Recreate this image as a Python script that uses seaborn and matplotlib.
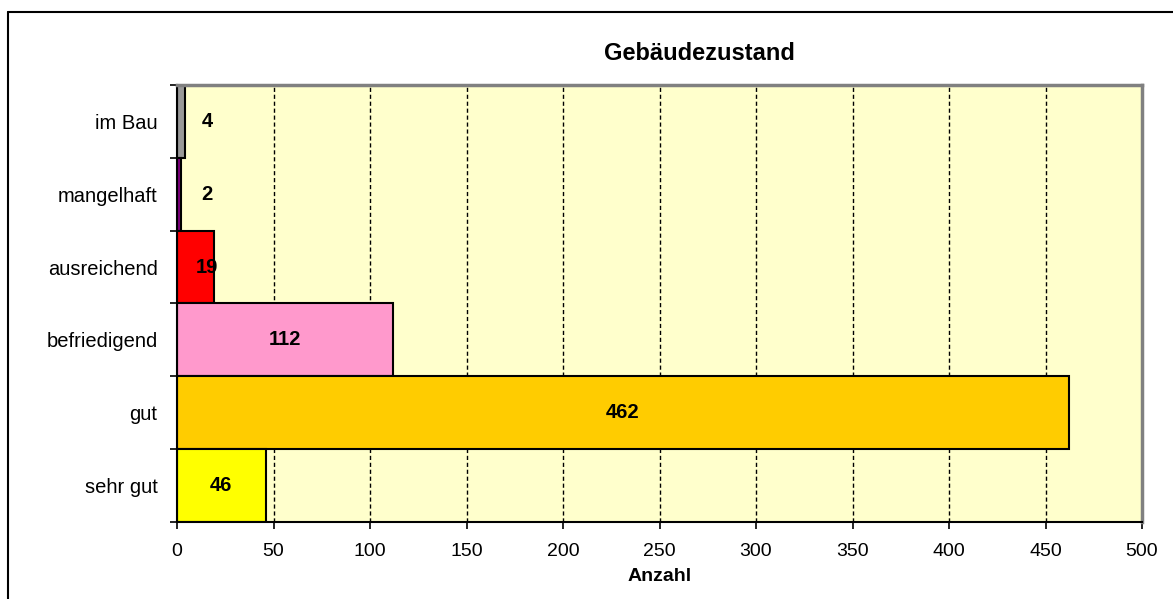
import matplotlib
matplotlib.use("Agg")
import matplotlib.pyplot as plt
import seaborn as sns
import pandas as pd
from matplotlib.lines import Line2D
from matplotlib.ticker import FixedLocator

categories = ["im Bau", "mangelhaft", "ausreichend", "befriedigend", "gut", "sehr gut"]
values = [4, 2, 19, 112, 462, 46]
colors = ["#999999", "#800080", "#FF0000", "#FF99CC", "#FFCC00", "#FFFF00"]
xticks = [0, 50, 100, 150, 200, 250, 300, 350, 400, 450, 500]
title = "Gebäudezustand"
xlabel = "Anzahl"

sns.set_style("white")
plt.rcParams["font.family"] = ["Liberation Sans", "DejaVu Sans"]
plt.rcParams["text.color"] = "black"
plt.rcParams["axes.labelcolor"] = "black"

df = pd.DataFrame({"cat": categories, "val": values})

fig = plt.figure(figsize=(11.73, 5.99), dpi=100)
ax = fig.add_axes([177/1173, 1-522/599, (1142-177)/1173, (522-85)/599])
ax.set_facecolor("#FFFFCC")

sns.barplot(data=df, x="val", y="cat", hue="cat", palette=colors, order=categories,
            hue_order=categories, width=1.0, edgecolor="black", linewidth=1.5,
            legend=False, ax=ax, orient="h", saturation=1)

ax.set_xlim(0, 500)
ax.set_ylim(5.5, -0.5)
ax.set_xticks(xticks)
ax.set_axisbelow(True)
ax.grid(axis="x", color="black", linestyle=(0, (3, 2)), linewidth=1.0)
ax.grid(axis="y", visible=False)

# value labels
for i, v in enumerate(values):
    xpos = max(v / 2, 15.5)
    ax.text(xpos, i, str(v), ha="center", va="center", fontsize=14.5,
            fontweight="bold", color="black")

# y ticks at category boundaries
ax.yaxis.set_minor_locator(FixedLocator([i - 0.5 for i in range(len(categories) + 1)]))
ax.tick_params(axis="y", which="major", length=0, pad=14, labelsize=14.5, labelcolor="black")
ax.tick_params(axis="y", which="minor", length=5, width=1.2, color="black", direction="out", left=True)
ax.tick_params(axis="x", which="major", length=5, width=1.2, color="black", direction="out",
               bottom=True, labelsize=14, labelcolor="black", pad=10)

ax.set_ylabel("")
ax.set_xlabel(xlabel, fontsize=14, fontweight="bold", labelpad=6)

for s in ["left", "bottom"]:
    ax.spines[s].set_color("black")
    ax.spines[s].set_linewidth(1.5)
for s in ["top", "right"]:
    ax.spines[s].set_color("#808080")
    ax.spines[s].set_linewidth(2.5)
    ax.spines[s].set_visible(True)

fig.text(699/1173, 1-53/599, title, ha="center", va="center", fontsize=17, fontweight="bold",
         color="black")

# outer chart border (left and top edges)
fig.add_artist(Line2D([8/1173, 8/1173], [0, 1-12/599], color="black", linewidth=1.5, transform=fig.transFigure))
fig.add_artist(Line2D([8/1173, 1], [1-12/599, 1-12/599], color="black", linewidth=1.5, transform=fig.transFigure))

fig.savefig("out.png", dpi=100)
